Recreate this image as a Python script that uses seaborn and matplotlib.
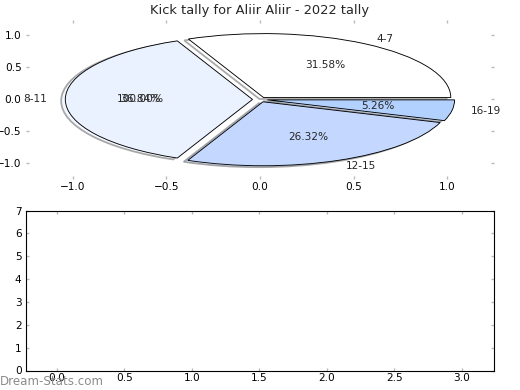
import matplotlib
matplotlib.use("Agg")
import matplotlib.pyplot as plt
import matplotlib.patches as mpatches
import seaborn as sns

# data
categories = ["4-7", "8-11", "12-15", "16-19"]
kicks = [6, 7, 5, 1]
slice_colors = ["#ffffff", "#eaf1ff", "#c4d8ff", "#b3d1ff"]
explode = [0.035, 0.04, 0.04, 0.04]
overlap_label = "100.00%"

title = "Kick tally for Aliir Aliir - 2022 tally"
watermark = "Dream-Stats.com"

sns.set_theme(style="white")
plt.rcParams.update({
    "font.family": ["DejaVu Sans"],
    "xtick.direction": "in",
    "ytick.direction": "in",
    "xtick.top": True,
    "ytick.right": True,
    "xtick.bottom": True,
    "ytick.left": True,
    "xtick.color": "#b8b8b8",
    "ytick.color": "#b8b8b8",
    "xtick.labelcolor": "black",
    "ytick.labelcolor": "black",
    "xtick.labelsize": 9.5,
    "ytick.labelsize": 9.5,
    "xtick.major.size": 3,
    "ytick.major.size": 3,
    "xtick.major.width": 1.2,
    "ytick.major.width": 1.2,
    "xtick.major.pad": 2,
    "ytick.major.pad": 4,
})

fig = plt.figure(figsize=(6.5, 4.875), dpi=80)
ax_pie = fig.add_axes([0.05, 0.54, 0.9, 0.41])
ax_bar = fig.add_axes([0.05, 0.05, 0.9, 0.41])

# ---- pie ----
wedges, texts, autotexts = ax_pie.pie(
    kicks, labels=categories, colors=slice_colors, explode=explode,
    autopct="%1.2f%%", frame=True, startangle=0,
    wedgeprops={"edgecolor": "black", "linewidth": 0.8},
    textprops={"fontsize": 9.5},
)
# old-style shadow: a same-coloured copy of each slice, shifted and drawn underneath
for w in wedges:
    shad = mpatches.Shadow(w, -0.02, -0.02, facecolor=w.get_facecolor(),
                           edgecolor="#555555", linewidth=1.6)
    shad.set_zorder(0.9 * w.get_zorder())
    ax_pie.add_patch(shad)

# a second percentage label printed on top of the 8-11 slice
x8, y8 = autotexts[1].get_position()
ax_pie.text(x8, y8, overlap_label, fontsize=9.5, ha="center", va="center")

ax_pie.set_xlim(-1.25, 1.25)
ax_pie.set_ylim(-1.25, 1.25)
ax_pie.set_aspect("auto")
ax_pie.set_xticks([-1.0, -0.5, 0.0, 0.5, 1.0])
ax_pie.set_yticks([-1.0, -0.5, 0.0, 0.5, 1.0])
for s in ax_pie.spines.values():
    s.set_visible(False)
ax_pie.set_title(title, fontsize=11.7, pad=5)

# ---- empty lower panel ----
ax_bar.set_xlim(-0.23, 3.24)
ax_bar.set_ylim(0, 7)
ax_bar.set_xticks([0.0, 0.5, 1.0, 1.5, 2.0, 2.5, 3.0])
ax_bar.set_yticks(range(8))
for s in ax_bar.spines.values():
    s.set_visible(True)
    s.set_color("black")
    s.set_linewidth(1.0)

fig.text(0.0, 0.005, watermark, fontsize=10.7, color="#8c8c8c", ha="left", va="bottom")

fig.savefig("out.png", dpi=80)
